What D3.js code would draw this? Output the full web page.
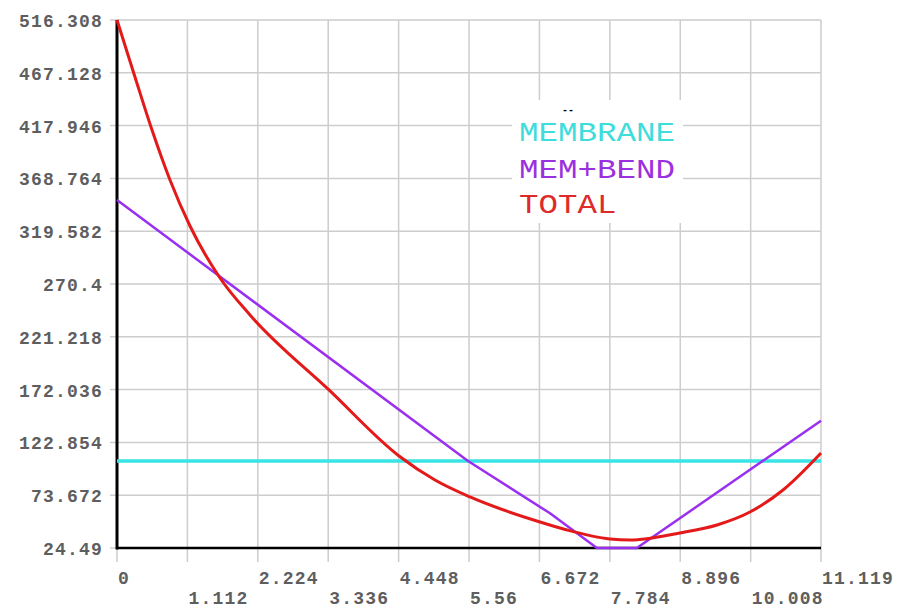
<!DOCTYPE html>
<html>
<head>
<meta charset="utf-8">
<script src="https://cdn.jsdelivr.net/npm/d3@7/dist/d3.min.js"></script>
<style>
  html, body { margin: 0; padding: 0; background: #fff; }
  svg { display: block; }
</style>
</head>
<body>
<svg id="chart" width="905" height="608"></svg>
<script>
// ---- data ----
const xTicks = [0, 1.112, 2.224, 3.336, 4.448, 5.56, 6.672, 7.784, 8.896, 10.008, 11.119];
const xTickLabels = ["0", "1.112", "2.224", "3.336", "4.448", "5.56", "6.672", "7.784", "8.896", "10.008", "11.119"];
const yTicks = [24.49, 73.672, 122.854, 172.036, 221.218, 270.4, 319.582, 368.764, 417.946, 467.128, 516.308];
const yTickLabels = ["24.49", "73.672", "122.854", "172.036", "221.218", "270.4", "319.582", "368.764", "417.946", "467.128", "516.308"];

const seriesNames = ["MEMBRANE", "MEM+BEND", "TOTAL"];

const membraneX = [0, 11.119];
const membraneY = [105.5, 105.5];

const memBendX = [0, 5.544, 6.839, 7.58, 8.21, 11.119];
const memBendY = [348.6, 105.5, 56.8, 24.49, 24.49, 143.1];

const totalX = [0, 0.284, 0.553, 0.837, 1.153, 1.627, 2.101, 3.348, 4.454, 5.022, 5.575, 6.681, 7.107, 7.786, 8.102, 8.892, 9.476, 9.997, 10.519, 11.119];
const totalY = [516.3, 463.2, 413.8, 367.3, 324.4, 276.0, 241.5, 171.7, 110.2, 87.8, 72.0, 48.7, 41.3, 32.9, 31.9, 38.5, 45.9, 58.0, 78.5, 113.0];

(function () {
// ---- layout ----
const svg = d3.select("#chart");
const mLeft = 117, mRight = 821, mTop = 20, mBottom = 548;

const x = d3.scaleLinear().domain([0, 11.119]).range([mLeft, mRight]);
const y = d3.scaleLinear().domain([24.49, 516.308]).range([mBottom, mTop]);

const colors = { "MEMBRANE": "#38e4e4", "MEM+BEND": "#9a2ff0", "TOTAL": "#e41a1a" };
const legendColors = { "MEMBRANE": "#3fdcdc", "MEM+BEND": "#9b30e0", "TOTAL": "#de2a2a" };

const font = "'Courier New', 'Liberation Mono', monospace";

// grid
const grid = svg.append("g").attr("stroke", "#cdcdcd").attr("stroke-width", 1.5);
grid.selectAll("line.v").data(xTicks).enter().append("line")
  .attr("x1", d => x(d)).attr("x2", d => x(d))
  .attr("y1", mTop).attr("y2", mBottom + 14);
grid.selectAll("line.h").data(yTicks).enter().append("line")
  .attr("x1", mLeft - 7).attr("x2", mRight)
  .attr("y1", d => y(d)).attr("y2", d => y(d));

// y labels
svg.append("g").selectAll("text").data(yTicks).enter().append("text")
  .attr("x", 103).attr("y", d => y(d) + 7)
  .attr("text-anchor", "end")
  .attr("font-family", font).attr("font-size", 18).attr("font-weight", "bold")
  .attr("letter-spacing", 1.2)
  .attr("fill", "#5e5e5e")
  .text((d, i) => yTickLabels[i]);

// x labels (staggered)
svg.append("g").selectAll("text").data(xTicks).enter().append("text")
  .attr("x", d => x(d) + 1)
  .attr("y", (d, i) => i % 2 === 0 ? 584 : 604)
  .attr("text-anchor", "start")
  .attr("font-family", font).attr("font-size", 18).attr("font-weight", "bold")
  .attr("letter-spacing", 1.2)
  .attr("fill", "#5e5e5e")
  .text((d, i) => xTickLabels[i]);

// legend background box (covers grid)
svg.append("rect").attr("x", 512).attr("y", 100).attr("width", 171).attr("height", 123).attr("fill", "#fff");
svg.append("text").attr("x", 562).attr("y", 113)
  .attr("font-family", font).attr("font-size", 10).attr("font-weight", "bold")
  .attr("fill", "#000").text("--");

// axes
svg.append("line").attr("x1", mLeft).attr("x2", mLeft).attr("y1", mTop).attr("y2", mBottom + 1.5)
  .attr("stroke", "#000").attr("stroke-width", 3);
svg.append("line").attr("x1", mLeft).attr("x2", mRight).attr("y1", mBottom).attr("y2", mBottom)
  .attr("stroke", "#000").attr("stroke-width", 2.5);

// lines
const zip = (a, b) => a.map((v, i) => [v, b[i]]);
const lineLin = d3.line().x(d => x(d[0])).y(d => y(d[1])).curve(d3.curveLinear);
const lineCurve = d3.line().x(d => x(d[0])).y(d => y(d[1])).curve(d3.curveMonotoneX);

svg.append("path").datum(zip(membraneX, membraneY))
  .attr("fill", "none").attr("stroke", colors["MEMBRANE"]).attr("stroke-width", 3.5)
  .attr("d", lineLin);
svg.append("path").datum(zip(memBendX, memBendY))
  .attr("fill", "none").attr("stroke", colors["MEM+BEND"]).attr("stroke-width", 2.5)
  .attr("stroke-linejoin", "round")
  .attr("d", lineLin);
svg.append("path").datum(zip(totalX, totalY))
  .attr("fill", "none").attr("stroke", colors["TOTAL"]).attr("stroke-width", 3)
  .attr("d", lineCurve);

// legend text
const legendBase = [141, 178, 213];
const legendLen = [156, 156, 97.5];
svg.append("g").selectAll("text").data(seriesNames).enter().append("text")
  .attr("x", 519).attr("y", (d, i) => legendBase[i])
  .attr("font-family", font).attr("font-size", 28)
  .attr("textLength", (d, i) => legendLen[i]).attr("lengthAdjust", "spacingAndGlyphs")
  .attr("fill", d => legendColors[d])
  .text(d => d);
})();
</script>
</body>
</html>
